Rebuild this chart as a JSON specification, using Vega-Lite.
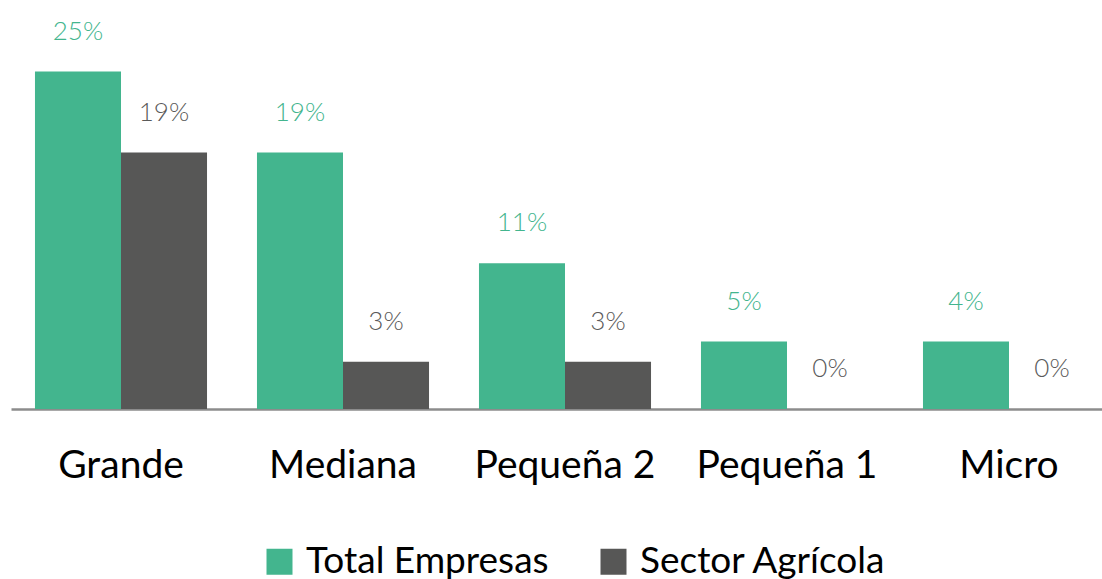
{
  "$schema": "https://vega.github.io/schema/vega-lite/v6.json",
  "autosize": {"type": "none"},
  "padding": {"left": 11, "top": 0, "right": 0, "bottom": 170},
  "width": 1091,
  "height": 409,
  "background": "white",
  "config": {
    "view": {"stroke": null},
    "font": "Lato"
  },
  "data": {
    "values": [
      {"categoria": "Grande", "serie": "Total Empresas", "valor": 25.0, "etiqueta": "25%"},
      {"categoria": "Grande", "serie": "Sector Agrícola", "valor": 19.0, "etiqueta": "19%"},
      {"categoria": "Mediana", "serie": "Total Empresas", "valor": 19.0, "etiqueta": "19%"},
      {"categoria": "Mediana", "serie": "Sector Agrícola", "valor": 3.5, "etiqueta": "3%"},
      {"categoria": "Pequeña 2", "serie": "Total Empresas", "valor": 10.8, "etiqueta": "11%"},
      {"categoria": "Pequeña 2", "serie": "Sector Agrícola", "valor": 3.5, "etiqueta": "3%"},
      {"categoria": "Pequeña 1", "serie": "Total Empresas", "valor": 5.0, "etiqueta": "5%"},
      {"categoria": "Pequeña 1", "serie": "Sector Agrícola", "valor": 0.0, "etiqueta": "0%"},
      {"categoria": "Micro", "serie": "Total Empresas", "valor": 5.0, "etiqueta": "4%"},
      {"categoria": "Micro", "serie": "Sector Agrícola", "valor": 0.0, "etiqueta": "0%"}
    ]
  },
  "encoding": {
    "x": {
      "field": "categoria",
      "type": "nominal",
      "sort": ["Grande", "Mediana", "Pequeña 2", "Pequeña 1", "Micro"],
      "scale": {"range": [0, 1108], "paddingInner": 0.225, "paddingOuter": 0.108},
      "axis": {
        "title": null,
        "labelAngle": 0,
        "labelFontSize": 39,
        "labelColor": "#000000",
        "labelBaseline": "alphabetic",
        "labelPadding": 68,
        "labelLimit": 400,
        "ticks": false,
        "tickSize": 0,
        "domainColor": "#8c8c8c",
        "domainWidth": 2.5,
        "grid": false
      }
    },
    "xOffset": {
      "field": "serie",
      "type": "nominal",
      "sort": ["Total Empresas", "Sector Agrícola"]
    },
    "y": {
      "field": "valor",
      "type": "quantitative",
      "scale": {"domain": [0, 30.3], "nice": false, "zero": true},
      "axis": null
    }
  },
  "layer": [
    {
      "mark": {"type": "bar"},
      "encoding": {
        "color": {
          "field": "serie",
          "type": "nominal",
          "scale": {"domain": ["Total Empresas", "Sector Agrícola"], "range": ["#43B58E", "#575756"]},
          "legend": {
            "title": null,
            "orient": "none",
            "legendX": 250,
            "legendY": 543,
            "direction": "horizontal",
            "symbolType": "square",
            "symbolSize": 676,
            "symbolStrokeWidth": 0,
            "labelFontSize": 37,
            "labelColor": "#000000",
            "labelOffset": 8,
            "labelLimit": 500,
            "columnPadding": 46,
            "padding": 0
          }
        }
      }
    },
    {
      "mark": {"type": "text", "baseline": "alphabetic", "dy": -32, "fontSize": 26, "fontWeight": 300},
      "encoding": {
        "text": {"field": "etiqueta"},
        "color": {
          "condition": {"test": "datum.serie === 'Total Empresas'", "value": "#43B58E"},
          "value": "#5a5a5a"
        }
      }
    }
  ]
}
